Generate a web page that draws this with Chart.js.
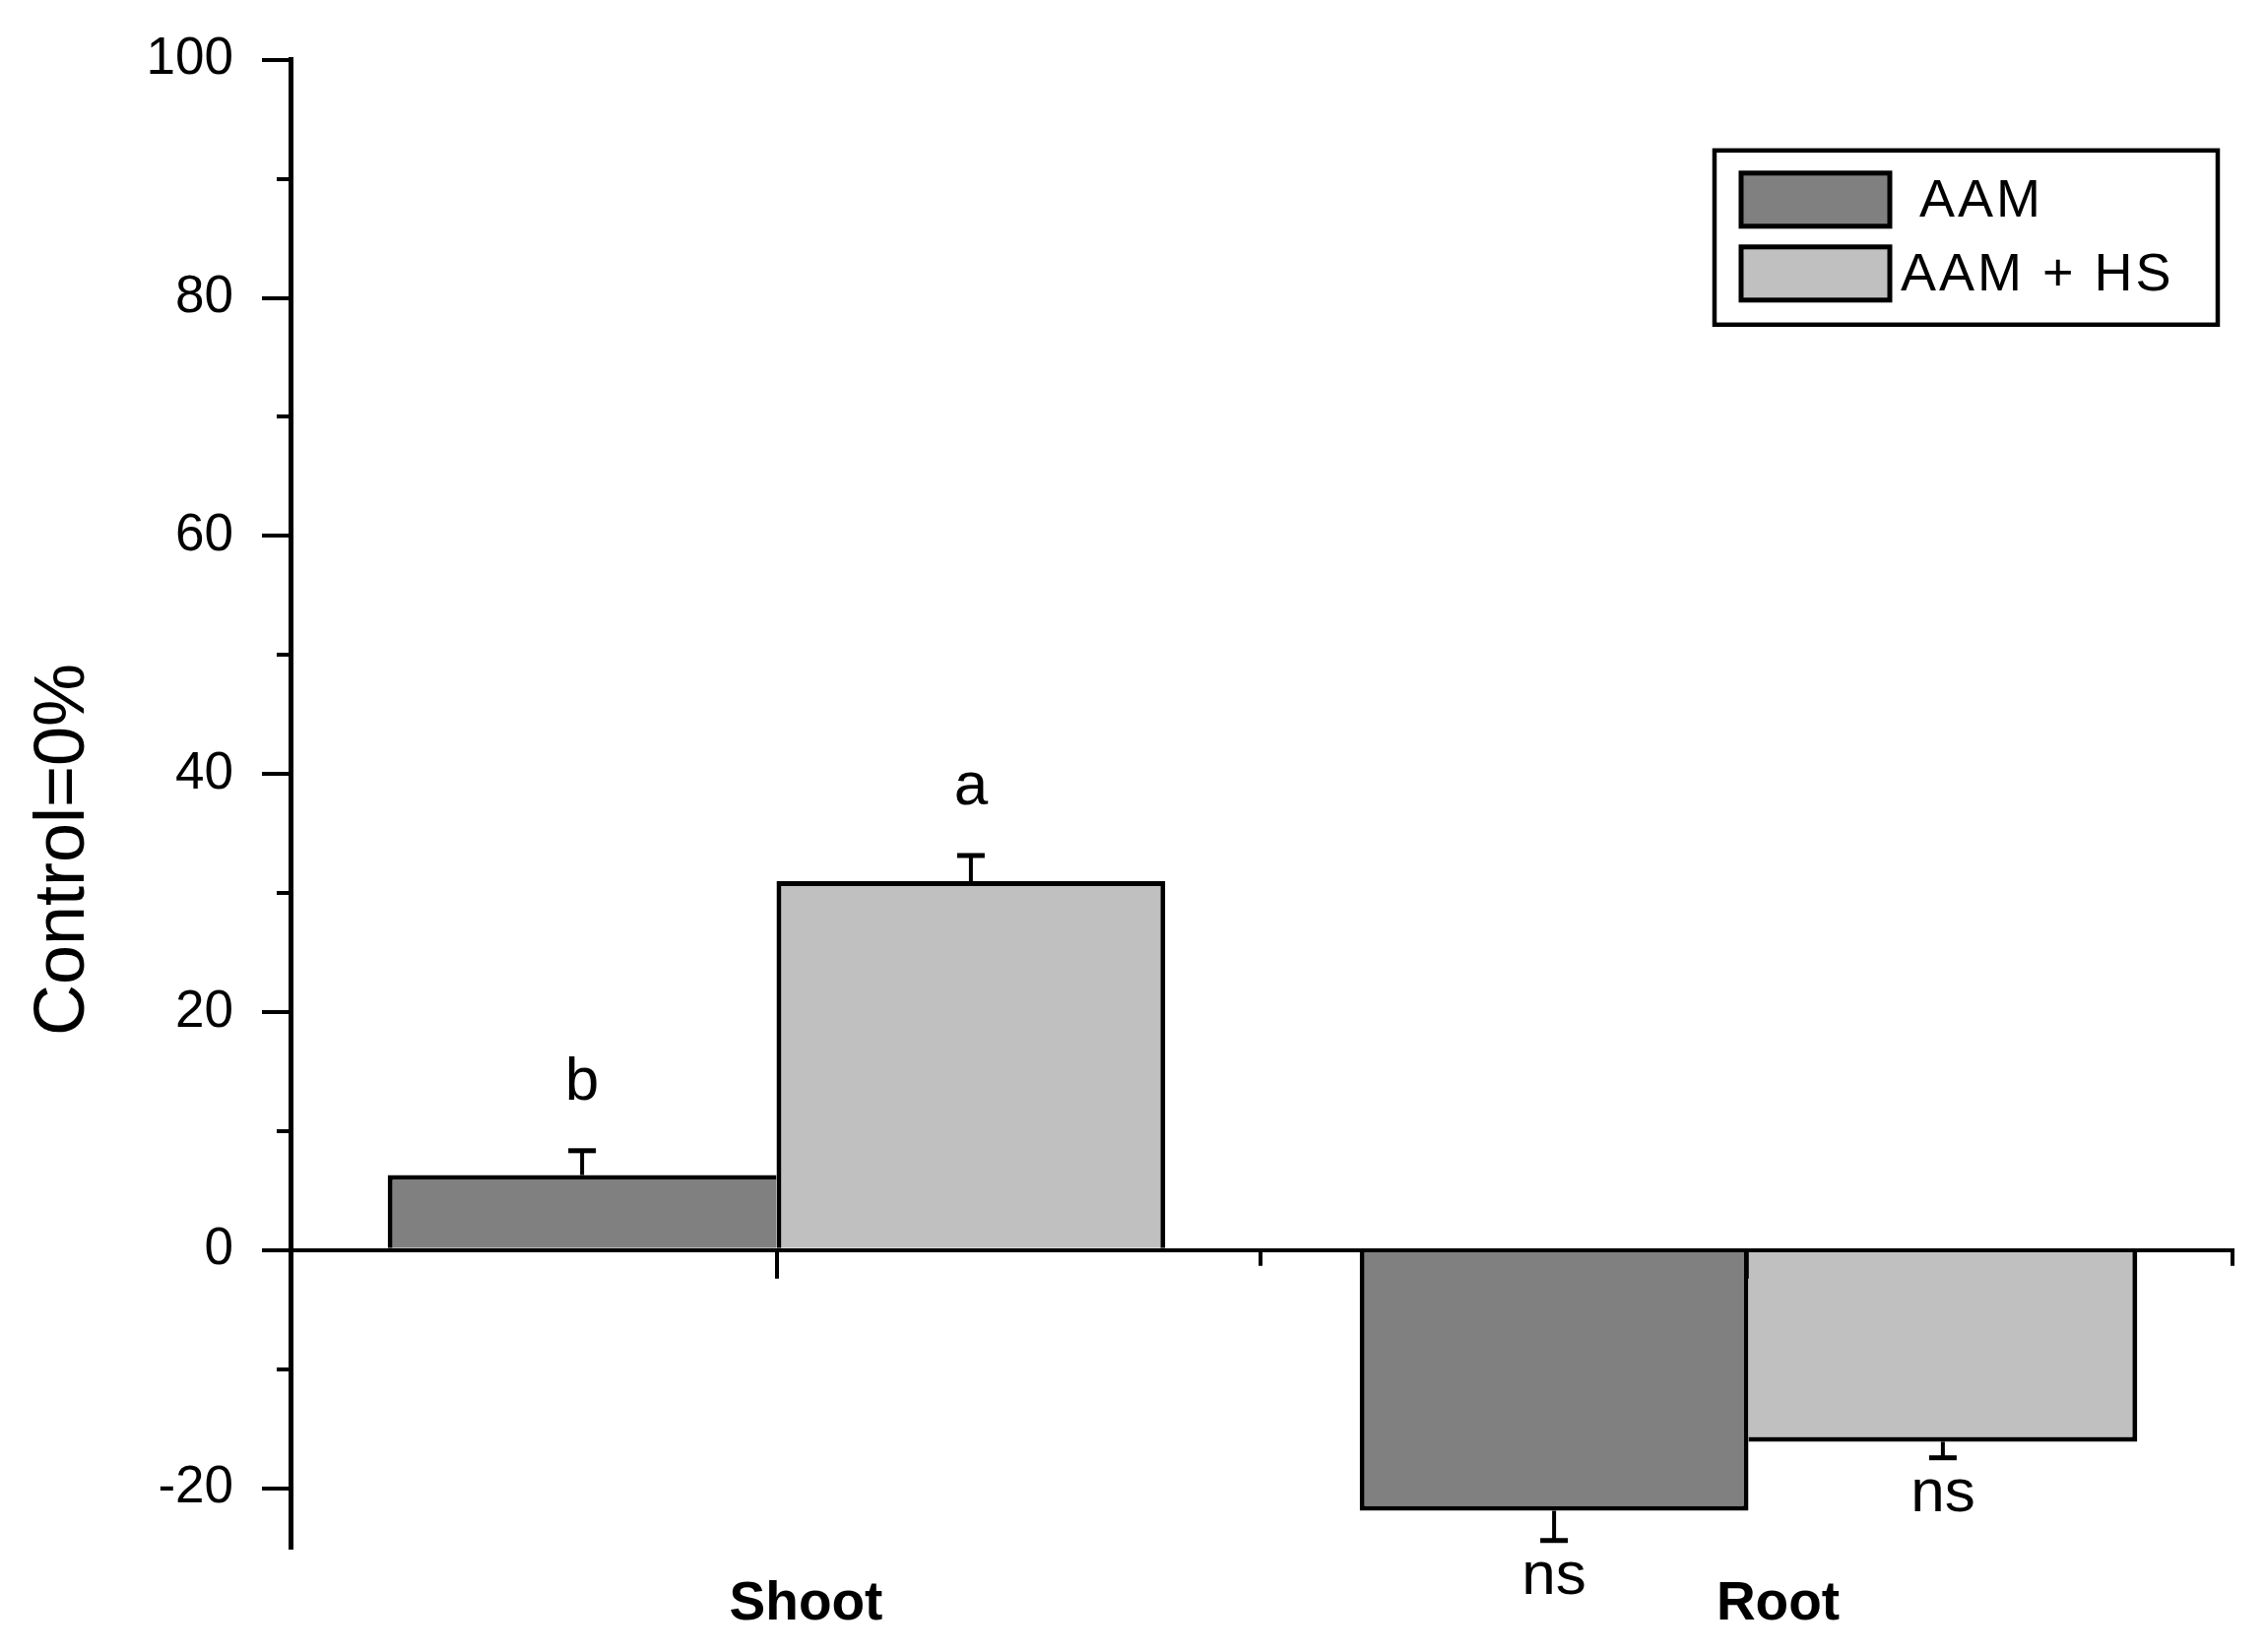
<!DOCTYPE html>
<html><head><meta charset="utf-8">
<script src="https://cdn.jsdelivr.net/npm/chart.js@4/dist/chart.umd.min.js"></script>
<style>html,body{margin:0;padding:0;background:#fff}</style>
</head><body>
<canvas id="c" width="2300" height="1678" style="display:block;width:2300px;height:1678px"></canvas>
<script>
const categories = ['Shoot', 'Root'];
const seriesNames = ['AAM', 'AAM + HS'];
const aamValues = [6.3, -21.9];
const aamHsValues = [31.0, -16.1];
const aamErrors = [2.05, 2.5];
const aamHsErrors = [2.15, 1.35];
const aamLetters = ['b', 'ns'];
const aamHsLetters = ['a', 'ns'];
const yTicks = [-20, 0, 20, 40, 60, 80, 100];
const yMinorTicks = [-10, 10, 30, 50, 70, 90];
const yMin = -25, yMax = 100;
const yTitle = 'Control=0%';

const FONT = '"Liberation Sans", Arial, sans-serif';
const colors = ['#808080', '#c0c0c0'];
const errorsBySeries = [aamErrors, aamHsErrors];
const lettersBySeries = [aamLetters, aamHsLetters];
const BW = 5;

function sharedBorder(ctx) {
  const i = ctx.dataIndex, ds = ctx.datasetIndex;
  const a = Math.abs(aamValues[i]), h = Math.abs(aamHsValues[i]);
  const w = {top: BW, bottom: BW, left: BW, right: BW};
  if (ds === 0) { w.right = a >= h ? BW : 0; }
  else { w.left = h > a ? BW : 0; }
  return w;
}

const decorations = {
  id: 'decorations',
  beforeDatasetsDraw(chart) {
    const c = chart.ctx, x = chart.scales.x, y = chart.scales.y;
    const y0 = y.getPixelForValue(0);
    c.save();
    c.strokeStyle = '#000'; c.lineWidth = 4;
    const cw = (x.right - x.left) / categories.length;
    categories.forEach((cat, i) => {
      const px = Math.round(x.getPixelForValue(i));
      c.beginPath(); c.moveTo(px, y0); c.lineTo(px, y0 + 29); c.stroke();
      const bx = Math.round(x.left + cw * (i + 1)) - 2;
      c.beginPath(); c.moveTo(bx, y0); c.lineTo(bx, y0 + 16); c.stroke();
    });
    c.restore();
  },
  afterDatasetsDraw(chart) {
    const c = chart.ctx, y = chart.scales.y;
    c.save();
    c.strokeStyle = '#000'; c.fillStyle = '#000';
    chart.data.datasets.forEach((ds, di) => {
      const meta = chart.getDatasetMeta(di);
      meta.data.forEach((bar, i) => {
        const v = ds.data[i], err = errorsBySeries[di][i];
        const sign = v >= 0 ? 1 : -1;
        const yEnd = y.getPixelForValue(v + sign * err);
        c.lineWidth = 4;
        c.beginPath(); c.moveTo(bar.x, bar.y); c.lineTo(bar.x, yEnd); c.stroke();
        c.lineWidth = 5;
        c.beginPath(); c.moveTo(bar.x - 14, yEnd); c.lineTo(bar.x + 14, yEnd); c.stroke();
        c.font = '62px ' + FONT;
        c.textAlign = 'center'; c.textBaseline = 'alphabetic';
        const by = sign > 0 ? yEnd - 52 : yEnd + 54;
        c.fillText(lettersBySeries[di][i], bar.x, by);
      });
    });
    c.restore();
  },
  afterDraw(chart) {
    const c = chart.ctx, y = chart.scales.y, area = chart.chartArea;
    c.save();
    c.strokeStyle = '#000'; c.fillStyle = '#000';
    c.lineWidth = 4;
    yMinorTicks.forEach(v => {
      const py = Math.round(y.getPixelForValue(v));
      c.beginPath(); c.moveTo(area.left - 14, py); c.lineTo(area.left, py); c.stroke();
    });
    c.save();
    c.translate(65, 863);
    c.rotate(-Math.PI / 2);
    c.font = '72px ' + FONT;
    c.textAlign = 'center'; c.textBaseline = 'middle';
    c.fillText(yTitle, 0, 0);
    c.restore();
    const lx = area.right - 528, ly = area.top + 92, lw = 511, lh = 177;
    c.lineWidth = 4.5;
    c.strokeRect(lx, ly, lw, lh);
    const textOffsets = [30, 11];
    chart.data.datasets.forEach((ds, di) => {
      const sx = lx + 27, sy = ly + 23 + di * 75;
      c.fillStyle = ds.backgroundColor;
      c.fillRect(sx, sy, 151, 54);
      c.lineWidth = 5; c.strokeStyle = '#000';
      c.strokeRect(sx, sy, 151, 54);
      c.fillStyle = '#000';
      c.font = '54px ' + FONT;
      c.letterSpacing = '3px';
      c.textAlign = 'left'; c.textBaseline = 'middle';
      c.fillText(ds.label, sx + 151 + textOffsets[di], sy + 29);
      c.letterSpacing = '0px';
    });
    c.restore();
  }
};

new Chart(document.getElementById('c'), {
  type: 'bar',
  data: {
    labels: categories,
    datasets: [
      {label: seriesNames[0], data: aamValues, backgroundColor: colors[0], borderColor: '#000', borderWidth: sharedBorder, borderSkipped: 'start'},
      {label: seriesNames[1], data: aamHsValues, backgroundColor: colors[1], borderColor: '#000', borderWidth: sharedBorder, borderSkipped: 'start'}
    ]
  },
  options: {
    responsive: false,
    animation: false,
    devicePixelRatio: 1,
    layout: {padding: {top: 60, right: 31, left: 0, bottom: 0}},
    datasets: {bar: {categoryPercentage: 0.8, barPercentage: 1.0}},
    plugins: {legend: {display: false}, tooltip: {enabled: false}},
    scales: {
      x: {
        type: 'category',
        offset: true,
        grid: {display: false, drawTicks: false},
        border: {display: false},
        ticks: {font: {family: FONT, size: 55, weight: 'bold'}, color: '#000', labelOffset: 30, padding: 25, maxRotation: 0},
        afterFit: s => { s.height = 106; }
      },
      y: {
        min: yMin, max: yMax,
        z: 1,
        afterBuildTicks: s => { s.ticks = yTicks.map(v => ({value: v})); },
        ticks: {font: {family: FONT, size: 53}, color: '#000', padding: 29},
        grid: {
          tickLength: 29, tickWidth: 4, tickColor: '#000',
          color: ctx => (ctx.tick && ctx.tick.value === 0) ? '#000' : 'rgba(0,0,0,0)',
          lineWidth: 4
        },
        border: {display: true, color: '#000', width: 5},
        afterFit: s => { s.width = 295; }
      }
    }
  },
  plugins: [decorations]
});
</script>
</body></html>
